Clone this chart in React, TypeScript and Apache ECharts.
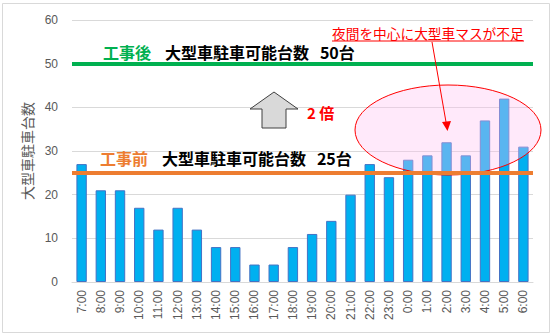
import React, { useEffect, useRef } from "react";
import * as echarts from "echarts";

const categories = ["7:00","8:00","9:00","10:00","11:00","12:00","13:00","14:00","15:00","16:00","17:00","18:00","19:00","20:00","21:00","22:00","23:00","0:00","1:00","2:00","3:00","4:00","5:00","6:00"];
const counts = [27,21,21,17,12,17,12,8,8,4,4,8,11,14,20,27,24,28,29,32,29,37,42,31];
const beforeCapacity = 25;
const afterCapacity = 50;
const yTicks = { min: 0, max: 60, interval: 10 };

export default function App() {
  const ref = useRef<HTMLDivElement>(null);
  useEffect(() => {
    document.body.style.margin = "0";
    const chart = echarts.init(ref.current!, null, { renderer: "svg" });
    const jp = "'Noto Sans CJK JP', sans-serif";
    chart.setOption({
      animation: false,
      grid: { left: 72, right: 22, top: 20, bottom: 54 },
      xAxis: {
        type: "category",
        data: categories,
        axisTick: { show: false },
        axisLine: { lineStyle: { color: "#D9D9D9", width: 1 } },
        axisLabel: { rotate: 90, color: "#595959", fontSize: 12, fontFamily: "'Liberation Sans', sans-serif", margin: 8, interval: 0 },
      },
      yAxis: {
        type: "value",
        min: yTicks.min,
        max: yTicks.max,
        interval: yTicks.interval,
        name: "大型車駐車台数",
        nameLocation: "middle",
        nameRotate: 90,
        nameGap: 36,
        nameTextStyle: { color: "#595959", fontSize: 14, fontFamily: jp },
        axisLine: { show: false },
        axisTick: { show: false },
        splitLine: { lineStyle: { color: "#D9D9D9" } },
        axisLabel: { color: "#595959", fontSize: 12, fontFamily: "'Liberation Sans', sans-serif", margin: 14 },
      },
      series: [
        {
          type: "bar",
          data: counts,
          barWidth: "54%",
          z: 2,
          itemStyle: { color: "#00B0F0", borderColor: "#4472C4", borderWidth: 1 },
        },
        {
          type: "line",
          data: [],
          z: 10,
          markLine: {
            silent: true,
            symbol: "none",
            label: { show: false },
            data: [
              { yAxis: afterCapacity, lineStyle: { color: "#00B050", width: 4, type: "solid" } },
              { yAxis: beforeCapacity, lineStyle: { color: "#ED7D31", width: 4, type: "solid" } },
            ],
          },
        },
      ],
      graphic: [
        { type: "rect", shape: { x: 2.5, y: 3.5, width: 547, height: 329 }, style: { fill: "none", stroke: "#D9D9D9", lineWidth: 1 }, z: 0 },
        { type: "ellipse", shape: { cx: 448, cy: 130, rx: 93, ry: 45 }, style: { fill: "rgba(255,192,240,0.35)", stroke: "#FF0000", lineWidth: 1 }, z: 5 },
        { type: "text", x: 103, y: 52, style: { text: "工事後", fill: "#00B050", font: "bold 16px " + jp, verticalAlign: "middle" }, z: 20 },
        { type: "text", x: 165, y: 52, style: { text: "大型車駐車可能台数   50台", fill: "#000000", font: "bold 16px " + jp, verticalAlign: "middle" }, z: 20 },
        { type: "text", x: 100, y: 158, style: { text: "工事前", fill: "#ED7D31", font: "bold 16px " + jp, verticalAlign: "middle" }, z: 20 },
        { type: "text", x: 162, y: 158, style: { text: "大型車駐車可能台数   25台", fill: "#000000", font: "bold 16px " + jp, verticalAlign: "middle" }, z: 20 },
        { type: "polygon", shape: { points: [[274, 92], [298, 109], [286, 109], [286, 128], [262, 128], [262, 109], [250, 109]] }, style: { fill: "#D9D9D9", stroke: "#404040", lineWidth: 1 }, z: 20 },
        { type: "text", x: 307, y: 112, style: { text: "2 倍", fill: "#FF0000", font: "bold 15px " + jp, verticalAlign: "middle" }, z: 20 },
        { type: "text", x: 332, y: 33, style: { text: "夜間を中心に大型車マスが不足", fill: "#FF0000", font: "13.7px " + jp, verticalAlign: "middle" }, z: 20 },
        { type: "line", shape: { x1: 332, y1: 41, x2: 524, y2: 41 }, style: { stroke: "#FF0000", lineWidth: 1 }, z: 20 },
        { type: "line", shape: { x1: 432, y1: 42, x2: 446, y2: 122 }, style: { stroke: "#FF0000", lineWidth: 1 }, z: 20 },
        { type: "polygon", shape: { points: [[442, 122], [451, 121], [447.5, 131]] }, style: { fill: "#FF0000" }, z: 20 },
      ],
    });
    return () => chart.dispose();
  }, []);
  return <div ref={ref} style={{ width: 555, height: 336 }} />;
}
